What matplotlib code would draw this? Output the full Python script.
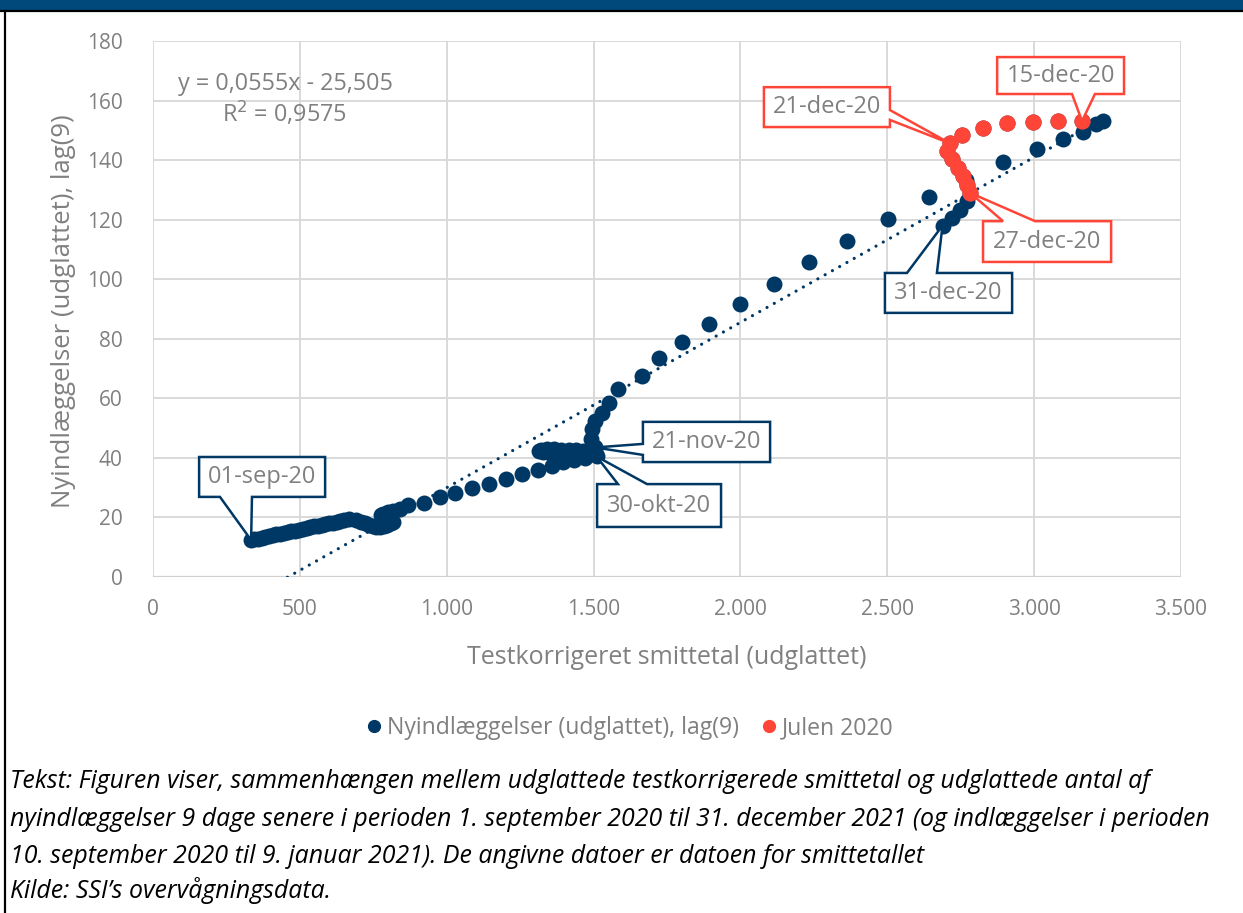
import matplotlib
matplotlib.use("Agg")
import matplotlib.pyplot as plt
import numpy as np
import pandas as pd
from matplotlib.patches import Polygon, Rectangle
from matplotlib.lines import Line2D

plt.rcParams['font.family'] = ['Open Sans', 'DejaVu Sans']

# ---- data: daily smoothed values, 1 Sep 2020 - 31 Dec 2020 ----
dates = pd.date_range("2020-09-01", "2020-12-31", freq="D")

# test-corrected case numbers (smoothed)
smittetal = [
    # 1-26 Sep
    334, 345, 357, 370, 382, 395, 408, 420, 433, 446, 458, 471, 484, 497,
    510, 523, 536, 548, 561, 574, 587, 600, 612, 625, 637, 650,
    # 27 Sep - 16 Oct
    668, 690, 708, 722, 735, 748, 760, 772, 785, 798, 810, 818, 812, 798,
    785, 776, 784, 800, 818, 840,
    # 17 - 30 Oct
    868, 923, 977, 1028, 1086, 1144, 1202, 1256, 1311, 1358, 1396, 1435,
    1472, 1510,
    # 31 Oct - 20 Nov
    1490, 1465, 1440, 1415, 1390, 1365, 1342, 1322, 1315, 1328,
    1350, 1372, 1395, 1418, 1440, 1458, 1472, 1484, 1494, 1500, 1504,
    # 21 Nov - 14 Dec
    1506, 1490, 1496, 1505, 1527, 1553, 1582, 1665, 1723, 1801, 1893, 1999,
    2114, 2234, 2363, 2502, 2642, 2768, 2894, 3010, 3098, 3166, 3212, 3234,
    # 15 - 27 Dec
    3163, 3081, 2996, 2908, 2826, 2756, 2714, 2704, 2720, 2740, 2757, 2772,
    2782,
    # 28 - 31 Dec
    2772, 2748, 2722, 2688,
]

# new admissions (smoothed), lagged 9 days
nyindlaeggelser = [
    12.4, 12.6, 12.9, 13.2, 13.4, 13.7, 14.0, 14.3, 14.6, 14.8, 15.1, 15.4,
    15.6, 15.9, 16.2, 16.4, 16.7, 17.0, 17.2, 17.5, 17.8, 18.0, 18.3, 18.6,
    18.9, 19.2,
    19.4, 19.2, 18.6, 18.0, 17.4, 17.0, 16.8, 16.9, 17.2, 17.6, 18.1, 18.6,
    19.3, 19.9, 20.4, 20.9, 21.3, 21.7, 22.2, 22.9,
    24.2, 24.8, 26.9, 28.2, 29.9, 31.2, 32.9, 34.6, 35.9, 37.3, 38.6, 39.4,
    40.0, 40.5,
    41.6, 42.2, 42.5, 42.6, 42.8, 43.0, 43.0, 42.8, 42.4, 41.9,
    41.5, 41.0, 40.8, 40.7, 40.9, 41.1, 41.4, 41.6, 41.8, 42.0, 42.3,
    43.5, 46.3, 49.8, 52.5, 55.2, 58.4, 63.0, 67.5, 73.5, 78.9, 85.0, 91.7,
    98.4, 105.8, 112.8, 120.2, 127.6, 133.4, 139.4, 143.7, 147.1, 149.6,
    152.2, 153.0,
    153.1, 153.1, 152.8, 152.5, 150.8, 148.4, 145.6, 143.2, 140.3, 137.4,
    134.6, 131.8, 129.0,
    126.2, 123.2, 120.6, 118.0,
]

# Christmas period highlighted separately
jul_start, jul_end = "2020-12-15", "2020-12-27"

# linear trendline as stated on the chart
trend_slope = 0.0555
trend_intercept = -25.505
trend_r2 = 0.9575

x_ticks = [0, 500, 1000, 1500, 2000, 2500, 3000, 3500]
y_ticks = [0, 20, 40, 60, 80, 100, 120, 140, 160, 180]

# date callouts: date, text, box (x0, x1, y0, y1), side of pointer, pointer base, colour key
callouts = [
    ("2020-09-01", "01-sep-20", (157, 586, 26.9, 40.3), "bottom", (228, 337), "blue"),
    ("2020-10-30", "30-okt-20", (1512, 1934, 16.8, 31.2), "top", (1583, 1682), "blue"),
    ("2020-11-21", "21-nov-20", (1668, 2101, 38.6, 52.1), "left", (41.0, 44.7), "blue"),
    ("2020-12-21", "21-dec-20", (2080, 2509, 151.1, 164.5), "right", (153.5, 156.8), "red"),
    ("2020-12-15", "15-dec-20", (2874, 3306, 162.2, 174.6), "bottom", (3129, 3207), "red"),
    ("2020-12-27", "27-dec-20", (2826, 3262, 105.8, 119.5), "top", (2894, 3003), "red"),
    ("2020-12-31", "31-dec-20", (2492, 2925, 88.7, 102.1), "top", (2567, 2669), "blue"),
]

BLUE = "#003865"
RED = "#FF4438"
GRAY_TXT = "#808080"
GRID = "#d9d9d9"
colors = {"blue": BLUE, "red": RED}

df = pd.DataFrame({"x": smittetal, "y": nyindlaeggelser}, index=dates)
jul = df.loc[jul_start:jul_end]

W, H = 1243, 913
fig = plt.figure(figsize=(W / 100, H / 100), dpi=100)
fig.patch.set_facecolor("white")

# header band and frame lines
fig.patches.append(Rectangle((0, 1 - 10 / H), 1, 10 / H, transform=fig.transFigure,
                             facecolor="#00497A", edgecolor="none", zorder=0))
fig.lines.append(Line2D([0, 1], [1 - 11 / H, 1 - 11 / H], transform=fig.transFigure,
                        color="black", lw=1.6))
fig.lines.append(Line2D([5 / W, 5 / W], [0, 1 - 11 / H], transform=fig.transFigure,
                        color="black", lw=1.6))

ax = fig.add_axes([153 / W, 1 - 577 / H, (1181 - 153) / W, (577 - 41) / H])
ax.set_xlim(0, 3500)
ax.set_ylim(0, 180)
for s in ax.spines.values():
    s.set_visible(False)
ax.set_xticks(x_ticks)
ax.set_yticks(y_ticks)
ax.set_xticklabels([f"{v:,}".replace(",", ".") for v in x_ticks])
ax.set_yticklabels([str(v) for v in y_ticks])
ax.tick_params(length=0, labelsize=15, labelcolor=GRAY_TXT)
ax.tick_params(axis="x", pad=16)
ax.tick_params(axis="y", pad=22)
ax.grid(True, color=GRID, lw=1.4, zorder=0)
ax.set_axisbelow(True)
ax.axhline(0, color="#cfcfcf", lw=1.6, zorder=1)

# trendline
tx = np.array([df["x"].min(), df["x"].max()])
ax.plot(tx, trend_slope * tx + trend_intercept, color=BLUE, lw=2.3,
        linestyle=(0, (0.01, 2.6)), dash_capstyle="round", zorder=2)

# scatter series
ax.scatter(df["x"], df["y"], s=132, color=BLUE, linewidths=0, zorder=3)
ax.scatter(jul["x"], jul["y"], s=138, color=RED, linewidths=0, zorder=4)

ax.text(85, 165.7, "y = 0,0555x - 25,505", fontsize=16.8, color=GRAY_TXT,
        va="center", ha="left")
ax.text(235, 155.6, f"R$^2$ = {trend_r2:.4f}".replace(".", ","), fontsize=16.8,
        color=GRAY_TXT, va="center", ha="left")


def callout_shape(tip, box, side, base):
    x0, x1, y0, y1 = box
    a, b = base
    pts = [(x0, y1)]
    if side == "top":
        pts += [(a, y1), tip, (b, y1)]
    pts.append((x1, y1))
    if side == "right":
        pts += [(x1, b), tip, (x1, a)]
    pts.append((x1, y0))
    if side == "bottom":
        pts += [(b, y0), tip, (a, y0)]
    pts.append((x0, y0))
    if side == "left":
        pts += [(x0, a), tip, (x0, b)]
    return pts


for date, text, box, side, base, ckey in callouts:
    tip = (df.loc[date, "x"], df.loc[date, "y"])
    poly = Polygon(callout_shape(tip, box, side, base), closed=True,
                   facecolor="white", edgecolor=colors[ckey], lw=1.8,
                   joinstyle="miter", zorder=6, clip_on=False)
    ax.add_patch(poly)
    ax.text((box[0] + box[1]) / 2, (box[2] + box[3]) / 2, text, fontsize=17,
            color=GRAY_TXT, ha="center", va="center", zorder=7)

# axis titles
fig.text(667 / W, 1 - 657 / H, "Testkorrigeret smittetal (udglattet)", fontsize=18,
         color=GRAY_TXT, ha="center", va="center")
fig.text(64 / W, 1 - 311 / H, "Nyindlæggelser (udglattet), lag(9)", fontsize=18.5,
         color=GRAY_TXT, ha="center", va="center", rotation=90)

# legend
handles = [
    Line2D([], [], marker="o", ls="none", color=BLUE, markersize=8.5),
    Line2D([], [], marker="o", ls="none", color=RED, markersize=8.5),
]
fig.legend(handles, ["Nyindlæggelser (udglattet), lag(9)", "Julen 2020"],
           loc="center", bbox_to_anchor=(628 / W, 1 - 728 / H), ncol=2,
           frameon=False, fontsize=16.6, labelcolor=GRAY_TXT, handletextpad=0.05,
           columnspacing=0.8, handlelength=1.0)

caption = [
    "Tekst: Figuren viser, sammenhængen mellem udglattede testkorrigerede smittetal og udglattede antal af",
    "nyindlæggelser 9 dage senere i perioden 1. september 2020 til 31. december 2021 (og indlæggelser i perioden",
    "10. september 2020 til 9. januar 2021). De angivne datoer er datoen for smittetallet",
    "Kilde: SSI’s overvågningsdata.",
]
for line, yy in zip(caption, [781, 819, 856, 890]):
    fig.text(10 / W, 1 - yy / H, line, fontsize=17.9, style="italic",
             color="black", ha="left", va="center")

fig.savefig("out.png", dpi=100)
